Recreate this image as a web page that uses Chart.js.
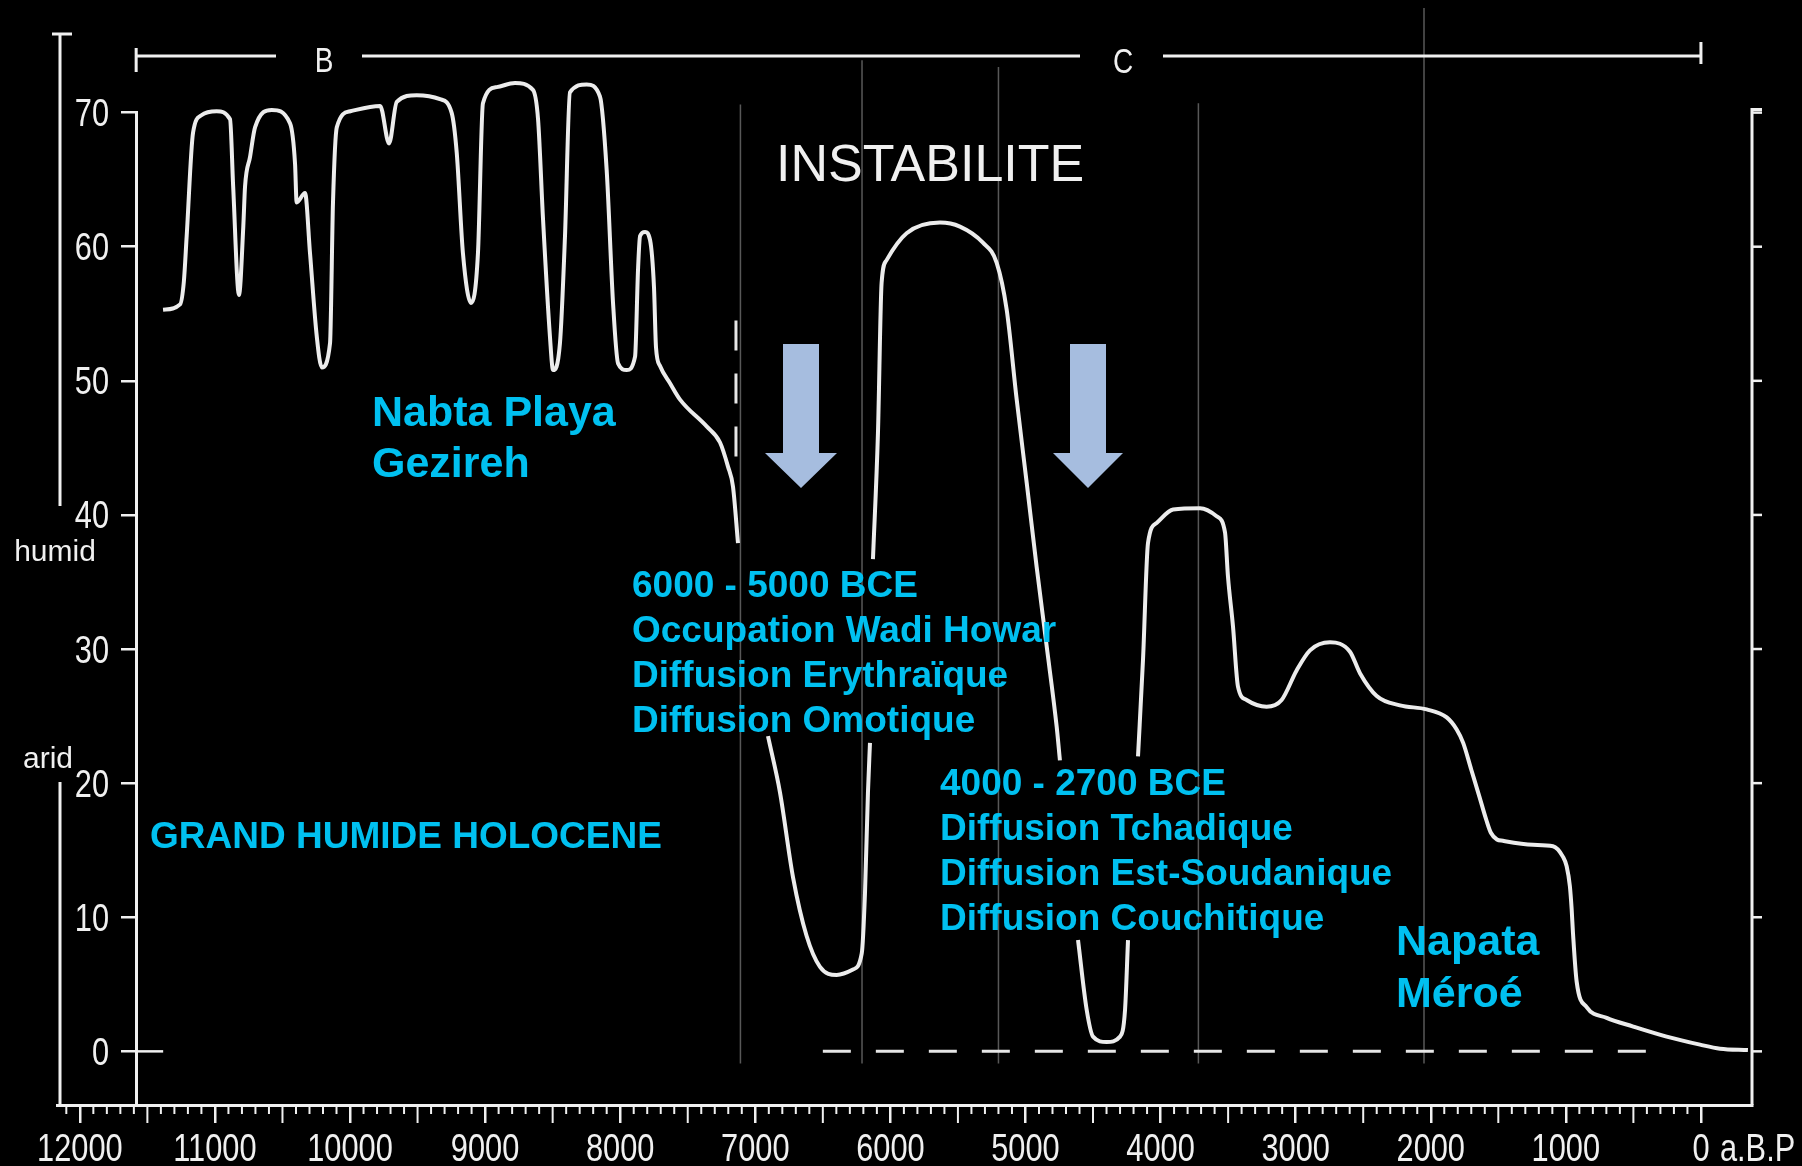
<!DOCTYPE html>
<html>
<head>
<meta charset="utf-8">
<script src="https://cdn.jsdelivr.net/npm/chart.js@4.4.1/dist/chart.umd.min.js"></script>
<style>
  html, body { margin: 0; padding: 0; background: #000; }
  canvas { display: block; }
</style>
</head>
<body>
<canvas id="climate" width="1802" height="1166"></canvas>
<script>
// humidity index, years before present (a.B.P)
// null = places where the original curve is hidden under the labels
const curveYears = [
  11384, 11258, 11230, 11209, 11162, 11100, 10987, 10888, 10865, 10822,
  10790, 10777, 10740, 10703, 10579, 10444, 10407, 10395, 10333, 10296,
  10246, 10209, 10148, 10126, 10098, 9998, 9777, 9711, 9654, 9506,
  9334, 9248, 9210, 9164, 9104, 9053, 9016, 8914, 8779, 8646,
  8608, 8571, 8520, 8497, 8446, 8409, 8372, 8248, 8150, 8100,
  8053, 8016, 7952, 7890, 7868, 7853, 7816, 7779, 7750, 7735,
  7705, 7630, 7557, 7360, 7261, 7202, 7165, 7128, 7020, 6906,
  6817, 6721, 6620, 6521, 6398, 6277, 6212, 6188, 6166, 6151,
  6140, 6129, 6092, 6065, 6028, 5880, 5633, 5485, 5315, 5213,
  5139, 5065, 4991, 4917, 4843, 4769, 4745, 4680, 4611, 4547,
  4500, 4399, 4300, 4263, 4241, 4200, 4167, 4130, 4093, 4029,
  3907, 3708, 3585, 3523, 3501, 3464, 3427, 3363, 3215, 3104,
  2993, 2894, 2746, 2598, 2524, 2400, 2228, 2030, 1882, 1808,
  1760, 1700, 1640, 1590, 1555, 1510, 1466, 1243, 1095, 1021,
  994, 970, 957, 947, 920, 846, 698, 501, 254, 7,
  -141, -348
];
const humidity = [
  55.3, 55.7, 57.4, 60.8, 68.5, 69.8, 70.1, 69.5, 64.5, 56.4,
  61.5, 64.5, 66.7, 68.9, 70.2, 69.2, 66.2, 63.3, 64.0, 59.5,
  53.3, 51.0, 52.8, 63.3, 68.9, 70.1, 70.5, 67.7, 70.8, 71.3,
  71.0, 70.0, 67.0, 59.5, 55.8, 59.5, 70.7, 71.9, 72.2, 71.7,
  69.5, 62.0, 53.3, 50.8, 52.8, 60.7, 71.5, 72.1, 71.2, 65.7,
  55.8, 51.3, 50.8, 51.8, 58.3, 60.8, 61.1, 60.5, 57.0, 52.5,
  51.1, 49.8, 48.6, 46.6, 45.4, 43.6, 42.1, 37.9, null, 23.5,
  19.3, 13.0, 8.6, 6.3, 5.7, 6.1, 7.3, 11.8, 19.3, 23.0,
  null, 36.7, 46.1, 57.3, 59.0, 61.0, 61.8, 61.5, 60.3, 58.8,
  55.3, 48.6, 42.4, 36.1, 30.2, 24.2, 21.7, null, 8.3, 3.1,
  1.1, 0.7, 1.1, 3.1, 8.3, null, 22.0, 29.2, 37.9, 39.4,
  40.4, 40.5, 39.9, 38.7, 35.4, 31.7, 27.2, 26.2, 25.7, 26.2,
  28.4, 29.9, 30.5, 29.8, 28.2, 26.5, 25.8, 25.5, 24.9, 24.0,
  23.0, 21.0, 19.0, 17.3, 16.3, 15.8, 15.7, 15.4, 15.3, 14.5,
  13.8, 12.3, 10.6, 8.8, 5.2, 3.3, 2.5, 1.85, 1.1, 0.5,
  0.2, 0.1
];

const xTickYears = [12000, 11000, 10000, 9000, 8000, 7000, 6000, 5000, 4000, 3000, 2000, 1000, 0];
const yTickValues = [0, 10, 20, 30, 40, 50, 60, 70];

// dashed zero reference, short dashed cut before 7000 BP, faint date guides
const zeroLineYears = [6500, 380];
const cutLineYear = 7143;
const cutLineValues = [54.5, 44.3];
const guideYears = [7110, 6210, 5200, 3720, 2050];
const guideTops = [70.6, 73.9, 73.4, 70.7, 77.8];
const guideBottom = -0.9;

const SANS = '"Liberation Sans", Arial, sans-serif';
const CYAN = '#00c0f0';
const INK = '#f0f0f0';

const datasets = [{
  data: curveYears.map((x, i) => ({ x: x, y: humidity[i] })),
  borderColor: '#ececec',
  borderWidth: 4,
  pointRadius: 0,
  cubicInterpolationMode: 'monotone',
  spanGaps: false,
  clip: false
}, {
  data: zeroLineYears.map(x => ({ x: x, y: 0 })),
  borderColor: '#e6e6e6',
  borderWidth: 3,
  borderDash: [28, 25],
  pointRadius: 0,
  clip: false
}, {
  data: cutLineValues.map(v => ({ x: cutLineYear, y: v })),
  borderColor: '#e6e6e6',
  borderWidth: 3,
  borderDash: [30, 23],
  pointRadius: 0,
  clip: false
}];
guideYears.forEach((yr, i) => {
  datasets.push({
    data: [{ x: yr, y: guideTops[i] }, { x: yr, y: guideBottom }],
    borderColor: 'rgba(175,175,175,0.5)',
    borderWidth: 1.5,
    pointRadius: 0,
    clip: false
  });
});

// the scanned figure uses a narrow grotesque: squeeze Liberation Sans
function narrowText(ctx, text, x, y, align, size, squeeze) {
  ctx.save();
  ctx.translate(x, y);
  ctx.scale(squeeze || 0.81, 1);
  ctx.font = size + 'px ' + SANS;
  ctx.textAlign = align;
  ctx.textBaseline = 'alphabetic';
  ctx.fillText(text, 0, 0);
  ctx.restore();
}

const decor = {
  id: 'decor',
  beforeDraw(chart) {
    const ctx = chart.ctx;
    ctx.save();
    ctx.fillStyle = '#000';
    ctx.fillRect(0, 0, chart.width, chart.height);
    ctx.restore();
  },
  afterDraw(chart) {
    const ctx = chart.ctx;
    const sx = chart.scales.x, sy = chart.scales.y;
    const area = chart.chartArea;
    const px = v => sx.getPixelForValue(v);
    const py = v => sy.getPixelForValue(v);
    const axisX = px(11583);
    ctx.save();
    ctx.strokeStyle = INK;
    ctx.fillStyle = INK;
    ctx.lineCap = 'butt';

    // ruler ticks on the time axis
    ctx.lineWidth = 2;
    for (let yr = 12100; yr >= 0; yr -= 100) {
      if (yr % 1000 === 0) continue;
      const len = yr % 500 === 0 ? 18 : 9;
      ctx.beginPath();
      ctx.moveTo(px(yr), area.bottom);
      ctx.lineTo(px(yr), area.bottom + len);
      ctx.stroke();
    }

    // tick labels
    xTickYears.forEach(v => narrowText(ctx, String(v), px(v), 1161, 'center', 38));
    narrowText(ctx, 'a.B.P', px(0) + 19, 1161, 'left', 38);
    yTickValues.forEach(v => narrowText(ctx, String(v), 109, py(v) + 13.5, 'right', 38));

    // short solid zero mark right of the humidity axis
    ctx.lineWidth = 2.5;
    ctx.beginPath();
    ctx.moveTo(axisX, py(0));
    ctx.lineTo(axisX + 27, py(0));
    ctx.stroke();

    // right frame with ticks
    ctx.lineWidth = 3;
    ctx.beginPath();
    ctx.moveTo(area.right + 10, py(70) - 3);
    ctx.lineTo(area.right, py(70) - 3);
    ctx.lineTo(area.right, area.bottom);
    ctx.stroke();
    ctx.lineWidth = 2.5;
    yTickValues.forEach(v => {
      ctx.beginPath();
      ctx.moveTo(area.right, py(v));
      ctx.lineTo(area.right + 10, py(v));
      ctx.stroke();
    });

    // outer humid / arid bar
    const outerX = 60;
    ctx.lineWidth = 3;
    ctx.beginPath();
    ctx.moveTo(outerX, 34);
    ctx.lineTo(outerX, 506);
    ctx.moveTo(outerX - 8, 34);
    ctx.lineTo(outerX + 12, 34);
    ctx.moveTo(outerX, 782);
    ctx.lineTo(outerX, area.bottom);
    ctx.stroke();

    // period bar B / C
    const barY = 56;
    const bx0 = axisX, bx1 = px(0);
    ctx.lineWidth = 3;
    ctx.beginPath();
    ctx.moveTo(bx0, barY); ctx.lineTo(276, barY);
    ctx.moveTo(362, barY); ctx.lineTo(1080, barY);
    ctx.moveTo(1163, barY); ctx.lineTo(bx1, barY);
    ctx.moveTo(bx0, barY - 8); ctx.lineTo(bx0, barY + 16);
    ctx.moveTo(bx1, barY - 14); ctx.lineTo(bx1, barY + 8);
    ctx.stroke();
    narrowText(ctx, 'B', 324, 72, 'center', 35, 0.8);
    narrowText(ctx, 'C', 1123, 73, 'center', 35, 0.8);

    ctx.textBaseline = 'alphabetic';
    ctx.font = '30px ' + SANS;
    ctx.textAlign = 'center';
    ctx.fillText('humid', 55, 561);
    ctx.fillText('arid', 48, 768);

    ctx.font = '52px ' + SANS;
    ctx.textAlign = 'left';
    ctx.fillText('INSTABILITE', 776, 181);

    // arrows
    ctx.fillStyle = '#a6bddf';
    [[801, 36, 72], [1088, 36, 70]].forEach(a => {
      const cx = a[0], sw = a[1] / 2, hw = a[2] / 2;
      ctx.beginPath();
      ctx.moveTo(cx - sw, 344);
      ctx.lineTo(cx + sw, 344);
      ctx.lineTo(cx + sw, 453);
      ctx.lineTo(cx + hw, 453);
      ctx.lineTo(cx, 488);
      ctx.lineTo(cx - hw, 453);
      ctx.lineTo(cx - sw, 453);
      ctx.closePath();
      ctx.fill();
    });

    // cyan annotations
    ctx.fillStyle = CYAN;
    ctx.font = 'bold 43px ' + SANS;
    ctx.fillText('Nabta Playa', 372, 426);
    ctx.fillText('Gezireh', 372, 477);
    ctx.fillText('Napata', 1396, 955);
    ctx.fillText('Méroé', 1396, 1007);
    ctx.font = 'bold 37px ' + SANS;
    ['6000 - 5000 BCE', 'Occupation Wadi Howar', 'Diffusion Erythraïque', 'Diffusion Omotique']
      .forEach((t, i) => ctx.fillText(t, 632, 597 + i * 45));
    ['4000 - 2700 BCE', 'Diffusion Tchadique', 'Diffusion Est-Soudanique', 'Diffusion Couchitique']
      .forEach((t, i) => ctx.fillText(t, 940, 795 + i * 45));
    ctx.fillText('GRAND HUMIDE HOLOCENE', 150, 848);
    ctx.restore();
  }
};

new Chart(document.getElementById('climate'), {
  type: 'line',
  data: { datasets: datasets },
  options: {
    responsive: false,
    devicePixelRatio: 1,
    animation: false,
    events: [],
    layout: { padding: { left: 57, right: 50, top: 112.6, bottom: 0 } },
    plugins: { legend: { display: false }, tooltip: { enabled: false } },
    scales: {
      x: {
        type: 'linear',
        position: 'bottom',
        reverse: true,
        min: -378,
        max: 12169,
        afterBuildTicks: s => { s.ticks = xTickYears.map(v => ({ value: v })); },
        afterFit: s => { s.height = 61; },
        border: { display: true, color: INK, width: 3 },
        grid: { display: true, drawOnChartArea: false, drawTicks: true, tickLength: 18, color: INK, lineWidth: 2.5 },
        ticks: { display: false }
      },
      y: {
        type: 'linear',
        position: { x: 11583 },
        min: -4,
        max: 70,
        afterBuildTicks: s => { s.ticks = yTickValues.map(v => ({ value: v })); },
        border: { display: true, color: INK, width: 3 },
        grid: { display: true, drawOnChartArea: false, drawTicks: true, tickLength: 14, color: INK, lineWidth: 2.5 },
        ticks: { display: false }
      }
    }
  },
  plugins: [decor]
});
</script>
</body>
</html>
